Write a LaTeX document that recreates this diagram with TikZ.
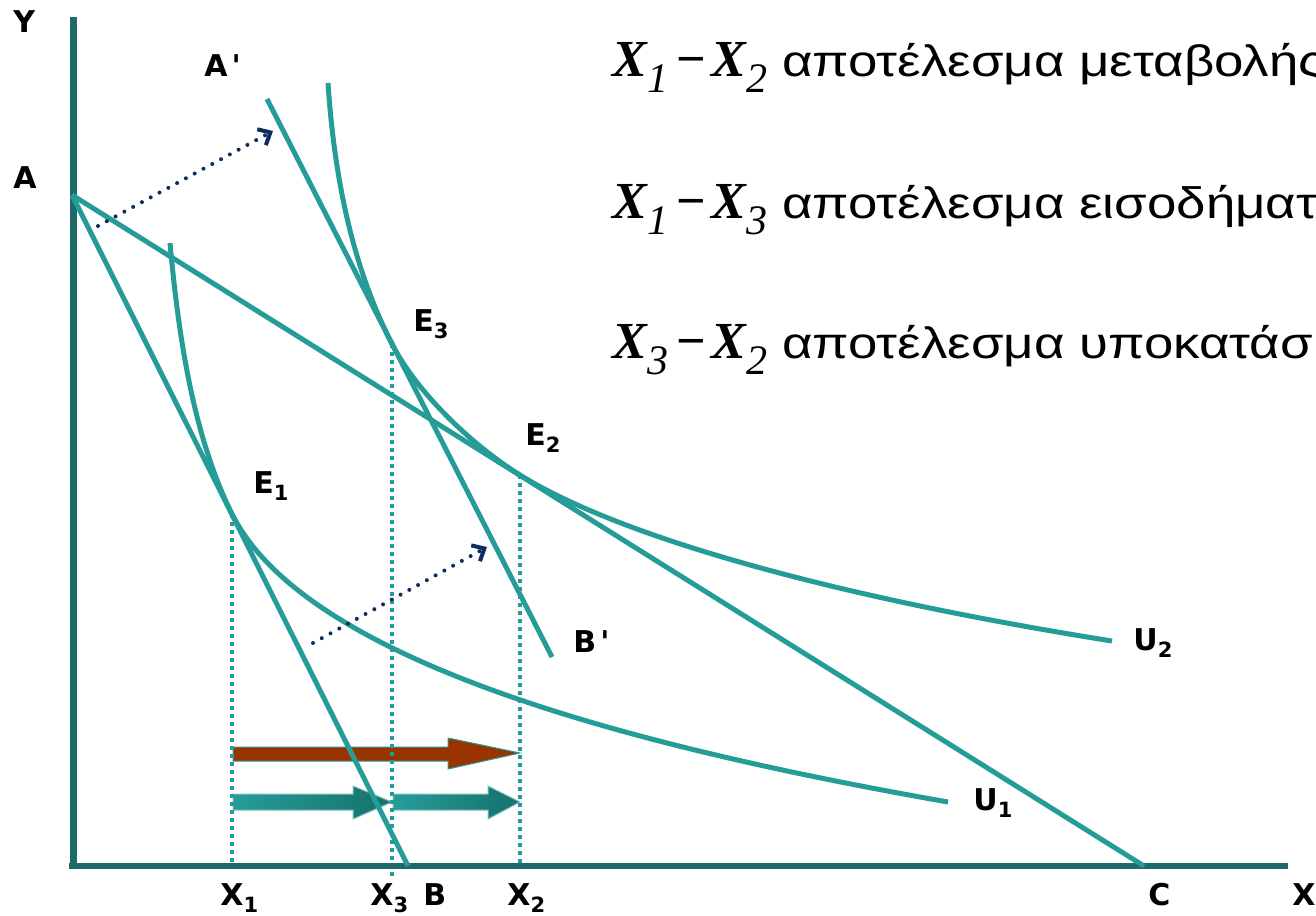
\documentclass[tikz,border=0pt]{standalone}
\usepackage{fontspec}
\setmainfont{DejaVu Sans}[Ligatures=TeXOff]
\newfontfamily\arialgr{Liberation Sans}[FakeStretch=1.2]
\newfontfamily\timesx{Liberation Serif}
\usetikzlibrary{arrows.meta}
\definecolor{curve}{HTML}{269C98}
\definecolor{axis}{HTML}{1E6A6A}
\definecolor{shiftc}{HTML}{0B2E5E}
\definecolor{total}{HTML}{993300}
\definecolor{tealdark}{HTML}{17706D}
\newcommand{\xsub}[1]{{\fontsize{26}{26}\selectfont\timesx\bfseries\itshape X}\raisebox{-8pt}{\fontsize{21}{21}\selectfont\timesx\itshape #1}}
\newcommand{\xdash}{\hspace{4pt}{\fontsize{26}{26}\selectfont\timesx\bfseries −}\hspace{3pt}}
\newcommand{\lsub}[1]{\raisebox{-3.5pt}{\fontsize{10.5}{10.5}\selectfont #1}}
\begin{document}
\begin{tikzpicture}[x=0.5pt,y=-0.5pt,
    budget/.style={curve, line width=2.5pt},
    guide/.style={curve, line width=2pt, dash pattern=on 2pt off 2pt},
    shiftarrow/.style={shiftc, line width=2pt, line cap=round, dash pattern=on 0pt off 5pt,
        -{Straight Barb[length=5pt,width=9pt,line cap=butt]}},
    lbl/.style={anchor=base west, inner sep=0pt, font=\fontsize{15}{15}\selectfont\bfseries},
    effect/.style={anchor=base west, inner sep=0pt, font=\fontsize{22}{22}\selectfont\arialgr}]
    \useasboundingbox (0,0) rectangle (1316,915);
    \coordinate (O) at (73,866);
    \coordinate (Ytop) at (73,17);
    \coordinate (Xend) at (1288,866);
    \coordinate (A) at (72,195);
    \coordinate (B) at (408,866);
    \coordinate (C) at (1144,866);
    \coordinate (Ap) at (267,99);
    \coordinate (Bp) at (552,657);
    \coordinate (E1) at (232,514);
    \coordinate (E2) at (520,475);
    \coordinate (E3) at (392,344);
    \coordinate (X1) at (232,866);
    \coordinate (X2) at (520,866);
    \coordinate (X3) at (392,878);
    \coordinate (s1) at (98,226);
    \coordinate (t1) at (273,131);
    \coordinate (s2) at (313,643);
    \coordinate (t2) at (487,547);

    \filldraw[fill=total, draw=curve, line width=0.5pt] (233,747) -- (448,747) -- (448,738) -- (520,753)
        -- (448,769) -- (448,761) -- (233,761) -- cycle;
    \shadedraw[left color=curve, right color=tealdark, draw=curve!60!white, line width=0.5pt]
        (233,794) -- (353,794) -- (353,786) -- (392,802) -- (353,819) -- (353,810) -- (233,810) -- cycle;
    \shadedraw[left color=curve, right color=tealdark, draw=curve!60!white, line width=0.5pt]
        (393,794) -- (488,794) -- (488,786) -- (520,802) -- (488,819) -- (488,810) -- (393,810) -- cycle;

    \draw[guide] (E1) -- (X1);
    \draw[guide] (E3) -- (X3);
    \draw[guide] (E2) -- (X2);

    \draw[axis, line width=3.5pt] (Ytop) -- (O |- 0,869);
    \draw[axis, line width=3pt] (69,866) -- (Xend);

    \draw[budget] (A) -- (B);
    \draw[budget] (A) -- (C);
    \draw[budget] (Ap) -- (Bp);
    \draw[budget] (170,243) .. controls (178,330) and (192,434) .. (E1)
        .. controls (308,666) and (652,750) .. (948,802);
    \draw[budget] (328,83) .. controls (334,173) and (351,264) .. (E3)
        .. controls (417,393) and (473,446) .. (E2)
        .. controls (613,533) and (816,594) .. (1112,641);

    \draw[shiftarrow] (s1) -- (t1);
    \draw[shiftarrow] (s2) -- (t2);

    \node[lbl] (ylab) at (13,33) {Y};
    \node[lbl] (alab) at (13,188) {A};
    \node[lbl] (aplab) at (204,77) {A\kern2pt'};
    \node[lbl] (e3lab) at (413,331) {E\lsub{3}};
    \node[lbl] (e2lab) at (525,445) {E\lsub{2}};
    \node[lbl] (e1lab) at (253,493) {E\lsub{1}};
    \node[lbl] (bplab) at (573,652) {B\kern2pt'};
    \node[lbl] (u2lab) at (1133,650) {U\lsub{2}};
    \node[lbl] (u1lab) at (973,810) {U\lsub{1}};
    \node[lbl] (x1lab) at (220,905) {X\lsub{1}};
    \node[lbl] (x3lab) at (370,905) {X\lsub{3}};
    \node[lbl] (blab) at (423,905) {B};
    \node[lbl] (x2lab) at (507,905) {X\lsub{2}};
    \node[lbl] (clab) at (1148,905) {C};
    \node[lbl] (xlab) at (1292,905) {X};

    \node[effect] (total) at (612,77) {\xsub{1}\xdash\xsub{2} αποτέλεσμα μεταβολής};
    \node[effect] (income) at (612,218) {\xsub{1}\xdash\xsub{3} αποτέλεσμα εισοδήματ};
    \node[effect] (subst) at (612,358) {\xsub{3}\xdash\xsub{2} αποτέλεσμα υποκατάσ};
\end{tikzpicture}
\end{document}
